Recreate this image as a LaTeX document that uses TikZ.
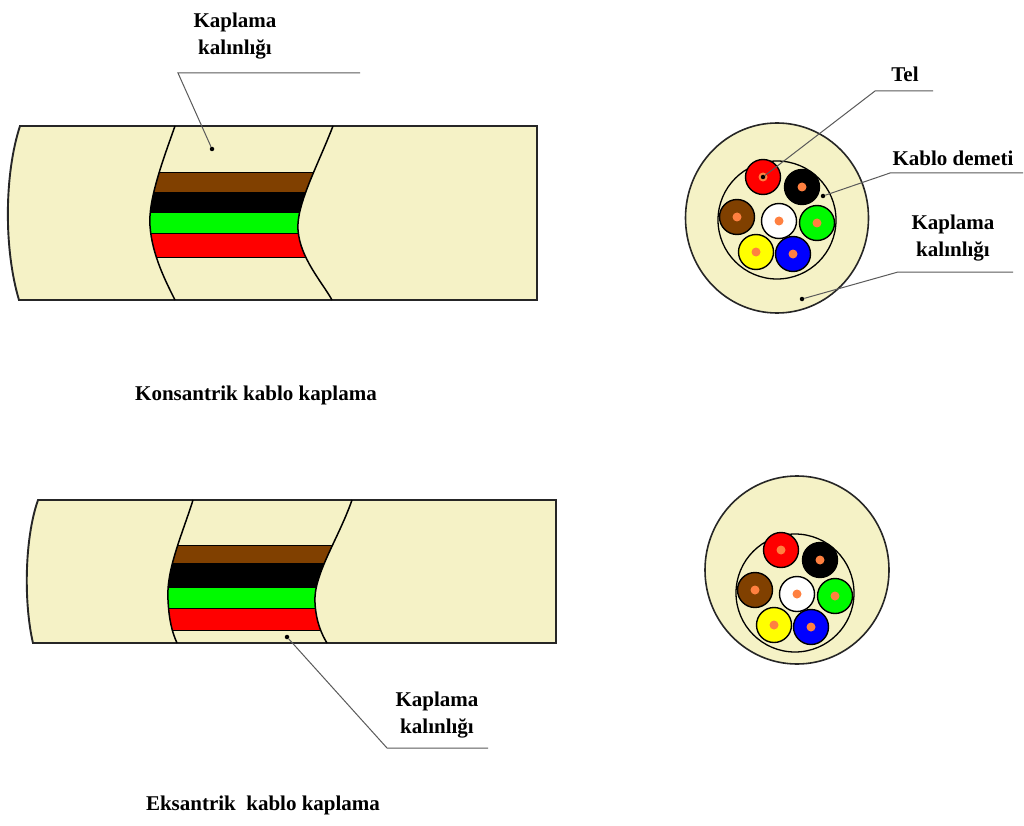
\documentclass[tikz,border=0pt]{standalone}
\usepackage{fontspec}
\setmainfont{Liberation Serif}

\definecolor{sheath}{RGB}{245,242,198}
\definecolor{wbrown}{RGB}{128,64,0}
\definecolor{wgreen}{RGB}{0,250,0}
\definecolor{wred}{RGB}{255,0,0}
\definecolor{wyellow}{RGB}{255,255,0}
\definecolor{wblue}{RGB}{0,0,255}
\definecolor{wcore}{RGB}{255,128,64}
\definecolor{leadgray}{RGB}{90,90,90}

\tikzset{
  sheathline/.style={draw=black!85,line width=1.9pt,fill=sheath},
  cutline/.style={draw=black,line width=1.5pt},
  band/.style={draw=black,line width=0.8pt},
  wire/.style={circle,draw=black,line width=1.4pt,minimum size=35pt,inner sep=0pt},
  core/.style={circle,fill=wcore,minimum size=9pt,inner sep=0pt},
  leader/.style={draw=leadgray,line width=1pt},
  lbl/.style={font=\fontsize{21}{27}\selectfont\bfseries,align=center,inner sep=0pt},
  tip/.style={circle,fill=black,minimum size=4.5pt,inner sep=0pt}
}

% seven wires inside the bundle circle: centre x, centre y, name prefix
\newcommand\cablebundle[3]{%
  \draw[line width=1.3pt] (#1,#2) circle (59);
  \foreach \nm/\dx/\dy/\col in {red/-14/-43/wred,black/25/-33/black,brown/-40/-3/wbrown,
      white/2/1/white,green/40/3/wgreen,yellow/-21/32/wyellow,blue/16/34/wblue}{
    \node[wire,fill=\col] (#3-\nm) at ({#1+\dx},{#2+\dy}) {};
    \node[core] at (#3-\nm) {};
  }
}

\begin{document}
\begin{tikzpicture}[x=1pt,y=-1pt]
  \useasboundingbox[fill=white] (0,0) rectangle (1024,826);

  % ---- concentric cable, side view
  \draw[sheathline] (20,126) -- (537,126) -- (537,300) -- (19,300)
    .. controls (4,250) and (4,175) .. (20,126) -- cycle;
  \begin{scope}
    \clip (175,126) .. controls (163,160) and (148,200) .. (150,226)
      .. controls (152,255) and (166,282) .. (175,300) -- (332,300)
      .. controls (322,282) and (300,258) .. (298,230)
      .. controls (296,205) and (318,165) .. (333,126) -- cycle;
    \foreach \ya/\yb/\col in {172/192/wbrown,192/212/black,212/233/wgreen,233/257/wred}
      \filldraw[band,fill=\col] (140,\ya) rectangle (345,\yb);
  \end{scope}
  \draw[cutline] (175,126) .. controls (163,160) and (148,200) .. (150,226)
    .. controls (152,255) and (166,282) .. (175,300);
  \draw[cutline] (333,126) .. controls (318,165) and (296,205) .. (298,230)
    .. controls (300,258) and (322,282) .. (332,300);

  % label above
  \node[lbl] (kk1) at (235,36) {Kaplama\\kalınlığı};
  \coordinate (kk1-a) at (178,73);
  \coordinate (kk1-b) at (360,73);
  \node[tip] (kk1-dot) at (212,149) {};
  \draw[leader] (kk1-b) -- (kk1-a) -- (kk1-dot);

  \node[lbl] (konsantrik) at (256,395) {Konsantrik kablo kaplama};

  % ---- concentric cable, cross section
  \draw[sheathline,line width=1.6pt] (777,218) ellipse (91.5 and 95);
  \cablebundle{777}{220}{kon}

  \node[lbl,anchor=base] (tel) at (905,82) {Tel};
  \coordinate (tel-a) at (875,91);
  \coordinate (tel-b) at (933,91);
  \node[tip] (tel-dot) at (kon-red) {};
  \draw[leader] (tel-b) -- (tel-a) -- (tel-dot);

  \node[lbl,anchor=base] (demet) at (953,166) {Kablo demeti};
  \coordinate (demet-a) at (890,173);
  \coordinate (demet-b) at (1023,173);
  \node[tip] (demet-dot) at (823,196) {};
  \draw[leader] (demet-b) -- (demet-a) -- (demet-dot);

  \node[lbl] (kk2) at (953,238) {Kaplama\\kalınlığı};
  \coordinate (kk2-a) at (898,272);
  \coordinate (kk2-b) at (1013,272);
  \node[tip] (kk2-dot) at (802,299) {};
  \draw[leader] (kk2-b) -- (kk2-a) -- (kk2-dot);

  % ---- eccentric cable, side view
  \draw[sheathline] (38,500) -- (556,500) -- (556,643) -- (33,643)
    .. controls (24,605) and (24,540) .. (38,500) -- cycle;
  \begin{scope}
    \clip (193,500) .. controls (182,535) and (166,570) .. (168,600)
      .. controls (169,620) and (172,632) .. (177,643) -- (327,643)
      .. controls (322,635) and (316,622) .. (315,603)
      .. controls (313,575) and (338,540) .. (352,500) -- cycle;
    \foreach \ya/\yb/\col in {545/563/wbrown,563/587/black,587/608/wgreen,608/630/wred}
      \filldraw[band,fill=\col] (150,\ya) rectangle (360,\yb);
  \end{scope}
  \draw[cutline] (193,500) .. controls (182,535) and (166,570) .. (168,600)
    .. controls (169,620) and (172,632) .. (177,643);
  \draw[cutline] (352,500) .. controls (338,540) and (313,575) .. (315,603)
    .. controls (316,622) and (322,635) .. (327,643);

  % label below
  \node[lbl] (kk3) at (437,715) {Kaplama\\kalınlığı};
  \node[tip] (kk3-dot) at (287,637) {};
  \coordinate (kk3-a) at (387,748);
  \coordinate (kk3-b) at (488,748);
  \draw[leader] (kk3-dot) -- (kk3-a) -- (kk3-b);

  \node[lbl] (eksantrik) at (263,805) {Eksantrik~ kablo kaplama};

  % ---- eccentric cable, cross section
  \draw[sheathline,line width=1.6pt] (797,570) ellipse (92 and 94);
  \cablebundle{795}{593}{eks}
\end{tikzpicture}
\end{document}
